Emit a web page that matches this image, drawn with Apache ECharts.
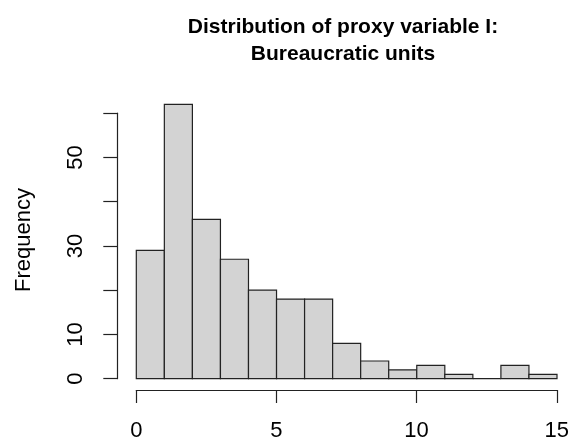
<!DOCTYPE html>
<html>
<head>
<meta charset="utf-8">
<script src="https://cdn.jsdelivr.net/npm/echarts@6/dist/echarts.min.js"></script>
<style>html,body{margin:0;padding:0;background:#fff;}#c{width:572px;height:442px;}</style>
</head>
<body>
<div id="c"></div>
<script>
// Histogram data (bins of width 1)
const binStarts = [0,1,2,3,4,5,6,7,8,9,10,11,12,13,14];
const binEnds   = [1,2,3,4,5,6,7,8,9,10,11,12,13,14,15];
const counts    = [29,62,36,27,20,18,18,8,4,2,3,1,0,3,1];
const yTicks    = [0,10,20,30,40,50,60];
const yTickLabelsShown = ['0','10','30','50'];
const xTicks    = [0,5,10,15];
const titleText = 'Distribution of proxy variable I:\nBureaucratic units';
const yName = 'Frequency';

const FONT = '"Liberation Sans", Arial, sans-serif';
const y0 = 378.7, yUnit = 4.425; // px per count
const gridTop = y0 - 65 * yUnit;
const axisTop = y0 - 60 * yUnit;

const chart = echarts.init(document.getElementById('c'), null, {renderer: 'canvas'});
chart.setOption({
  animation: false,
  backgroundColor: '#fff',
  title: {
    text: titleText,
    left: 338,
    top: 9,
    textAlign: 'center',
    textStyle: {fontFamily: FONT, fontWeight: 'bold', fontSize: 21, lineHeight: 27, color: '#000'}
  },
  grid: [
    {left: 136.3, right: 15, top: gridTop, bottom: 442 - y0},
    {left: 117.3, width: 1, top: axisTop, bottom: 442 - y0},
    {left: 136.3, right: 15, top: 300, bottom: 442 - 390.7}
  ],
  xAxis: [
    {gridIndex: 0, type: 'value', min: 0, max: 15, show: false},
    {gridIndex: 1, type: 'value', min: 0, max: 1, show: false},
    {gridIndex: 2, type: 'value', min: 0, max: 15, interval: 5,
     axisLine: {show: true, onZero: false, lineStyle: {color: '#222', width: 1.2}},
     axisTick: {show: true, inside: false, length: 13, lineStyle: {color: '#222', width: 1.2}},
     axisLabel: {show: true, margin: 30, fontFamily: FONT, fontSize: 22, color: '#000',
       formatter: v => xTicks.includes(v) ? String(v) : ''},
     splitLine: {show: false}}
  ],
  yAxis: [
    {gridIndex: 0, type: 'value', min: 0, max: 65, show: false},
    {gridIndex: 1, type: 'value', min: 0, max: 60, interval: 10, position: 'left',
     name: yName, nameLocation: 'middle', nameRotate: 90, nameGap: 82,
     nameTextStyle: {fontFamily: FONT, fontSize: 22, color: '#000', padding: [0, 0, 0, 12]},
     axisLine: {show: true, onZero: false, lineStyle: {color: '#222', width: 1.2}},
     axisTick: {show: true, inside: false, length: 14, lineStyle: {color: '#222', width: 1.2}},
     axisLabel: {show: true, rotate: 90, margin: 30, fontFamily: FONT, fontSize: 22, color: '#000',
       formatter: v => yTickLabelsShown.includes(String(v)) ? String(v) : ''},
     splitLine: {show: false}},
    {gridIndex: 2, type: 'value', min: 0, max: 1, show: false}
  ],
  series: [{
    type: 'custom',
    xAxisIndex: 0, yAxisIndex: 0,
    data: binStarts.map((s, i) => [s, binEnds[i], counts[i]]),
    renderItem: function (params, api) {
      const p0 = api.coord([api.value(0), 0]);
      const p1 = api.coord([api.value(1), api.value(2)]);
      return {
        type: 'rect',
        shape: {x: p0[0], y: p1[1], width: p1[0] - p0[0], height: p0[1] - p1[1]},
        style: {fill: '#d3d3d3', stroke: '#222', lineWidth: 1.2}
      };
    }
  }]
});
</script>
</body>
</html>
